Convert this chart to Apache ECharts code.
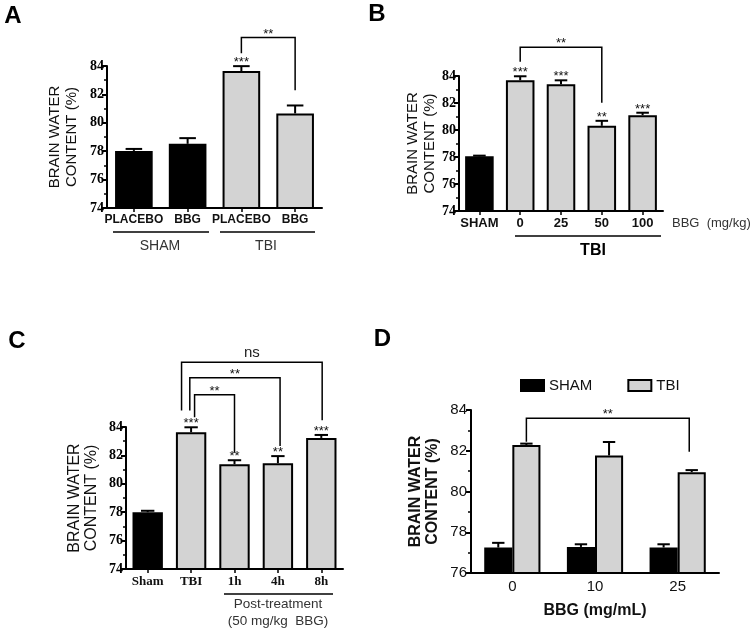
<!DOCTYPE html>
<html><head><meta charset="utf-8">
<script src="https://cdn.jsdelivr.net/npm/echarts@6/dist/echarts.min.js"></script>
<style>html,body{margin:0;padding:0;background:#fff}#c{width:755px;height:633px}</style>
</head><body><div id="c"></div>
<script>
// ---------- Data ----------
// Panel A
const catsA = ['PLACEBO', 'BBG', 'PLACEBO', 'BBG'];
const groupA = ['SHAM', 'SHAM', 'TBI', 'TBI'];
const valsA = [78.02, 78.52, 83.64, 80.66];
const errA = [0.14, 0.4, 0.35, 0.56];
const starsA = ['', '', '***', ''];
const bracketsA = [{ from: 2, fromOff: 0, to: 3, toOff: 0, leg1: 84.9, leg2: 82.3, top: 86.0, label: '**' }];

// Panel B
const catsB = ['SHAM', '0', '25', '50', '100'];
const groupB = ['SHAM', 'TBI', 'TBI', 'TBI', 'TBI'];
const valsB = [78.05, 83.68, 83.38, 80.31, 81.1];
const errB = [0.05, 0.3, 0.3, 0.37, 0.18];
const starsB = ['', '***', '***', '**', '***'];
const bracketsB = [{ from: 1, fromOff: 0, to: 3, toOff: 0, leg1: 85.06, leg2: 82.02, top: 86.13, label: '**' }];

// Panel C
const catsC = ['Sham', 'TBI', '1h', '4h', '8h'];
const groupC = ['SHAM', 'TBI', 'TBI', 'TBI', 'TBI'];
const valsC = [78.0, 83.63, 81.38, 81.45, 83.23];
const errC = [0.1, 0.35, 0.28, 0.5, 0.21];
const starsC = ['', '***', '**', '**', '***'];
const bracketsC = [
  { from: 1, fromOff: -0.22, to: 4, toOff: 0.02, leg1: 85.17, leg2: 84.47, top: 88.56, label: 'ns' },
  { from: 1, fromOff: -0.03, to: 3, toOff: 0.05, leg1: 85.17, leg2: 82.67, top: 87.46, label: '**' },
  { from: 1, fromOff: 0.08, to: 2, toOff: 0, leg1: 84.68, leg2: 82.18, top: 86.27, label: '**' }
];

// Panel D
const catsD = ['0', '10', '25'];
const shamD = [77.25, 77.28, 77.25];
const shamErrD = [0.23, 0.13, 0.16];
const tbiD = [82.28, 81.77, 80.95];
const tbiErrD = [0.07, 0.66, 0.1];
const bracketsD = [{ from: 0, fromOff: 0.17, to: 2, toOff: 0.14, leg1: 82.44, leg2: 81.95, top: 83.59, label: '**' }];

// ---------- Helpers ----------
const BLACK = '#000';
const GREY = '#d3d3d3';
const colorOf = g => (g === 'SHAM' ? BLACK : GREY);
const SANS = '"Liberation Sans", Arial, sans-serif';
const SERIF = '"Liberation Serif", "Times New Roman", serif';
function ts(size, weight, family, color) {
  return { fontSize: size, fontWeight: weight, fontFamily: family, color: color || '#000' };
}

function txt(text, x, y, font, align, vAlign, fill) {
  return {
    type: 'text', x: x, y: y, silent: true,
    style: { text: text, font: font, fill: fill || '#111',
      align: align || 'center', textAlign: align || 'center',
      verticalAlign: vAlign || 'middle', textVerticalAlign: vAlign || 'middle' }
  };
}
function hline(x1, x2, y) {
  return { type: 'line', silent: true, shape: { x1: x1, y1: y, x2: x2, y2: y }, style: { stroke: '#000', lineWidth: 1.5 } };
}

function errSeries(gi, vals, errs, stars, offFrac, barFrac) {
  return {
    type: 'custom', xAxisIndex: gi, yAxisIndex: gi, z: 5, silent: true, clip: false,
    data: vals.map((v, i) => [i, v, v + errs[i]]),
    renderItem: function (params, api) {
      const band = api.size([1, 0])[0];
      const p0 = api.coord([api.value(0), api.value(1)]);
      const p1 = api.coord([api.value(0), api.value(2)]);
      const x = p0[0] + offFrac * band;
      const cap = band * barFrac * 0.22;
      const children = [
        { type: 'line', shape: { x1: x, y1: p0[1], x2: x, y2: p1[1] }, style: { stroke: '#000', lineWidth: 2 } },
        { type: 'line', shape: { x1: x - cap, y1: p1[1], x2: x + cap, y2: p1[1] }, style: { stroke: '#000', lineWidth: 2 } }
      ];
      const s = stars ? stars[params.dataIndex] : '';
      if (s) children.push(txt(s, x, p1[1] - 10, '13px ' + SANS, 'center', 'top', '#111'));
      return { type: 'group', children: children };
    }
  };
}

function bracketSeries(gi, brs) {
  return {
    type: 'custom', xAxisIndex: gi, yAxisIndex: gi, z: 6, silent: true, clip: false,
    data: brs.map(b => [b.from, b.top]),
    renderItem: function (params, api) {
      const b = brs[params.dataIndex];
      const band = api.size([1, 0])[0];
      const xa = api.coord([b.from, b.top])[0] + b.fromOff * band;
      const xb = api.coord([b.to, b.top])[0] + b.toOff * band;
      const yt = api.coord([b.from, b.top])[1];
      const y1 = api.coord([b.from, b.leg1])[1];
      const y2 = api.coord([b.to, b.leg2])[1];
      const children = [{
        type: 'polyline',
        shape: { points: [[xa, y1], [xa, yt], [xb, yt], [xb, y2]] },
        style: { stroke: '#000', lineWidth: 1.5, fill: 'none' }
      }];
      const cx = (xa + xb) / 2;
      if (b.label === 'ns') children.push(txt('ns', cx, yt - 2, '15px ' + SANS, 'center', 'bottom', '#222'));
      else children.push(txt(b.label, cx, yt - 10, '13px ' + SANS, 'center', 'top', '#111'));
      return { type: 'group', children: children };
    }
  };
}

function yAxisCfg(gi, min, max, nameGap, nameStyle, labelStyle, labelMargin) {
  return {
    gridIndex: gi, type: 'value', min: min, max: max, interval: 2,
    name: 'BRAIN WATER\nCONTENT (%)', nameLocation: 'middle', nameRotate: 90, nameGap: nameGap,
    nameTextStyle: Object.assign({ lineHeight: 17 }, nameStyle),
    axisLine: { show: true, lineStyle: { color: '#000', width: 2 } },
    axisTick: { show: true, length: 5, lineStyle: { color: '#000', width: 2 } },
    minorTick: { show: true, splitNumber: 2, length: 3, lineStyle: { color: '#000', width: 1.5 } },
    splitLine: { show: false }, minorSplitLine: { show: false },
    axisLabel: Object.assign({ margin: labelMargin }, labelStyle)
  };
}
function xAxisCfg(gi, cats, labelStyle, margin, ticks) {
  return {
    gridIndex: gi, type: 'category', data: cats,
    axisLine: { show: true, lineStyle: { color: '#000', width: 2 } },
    axisTick: { show: ticks, alignWithLabel: true, length: 4, lineStyle: { color: '#000', width: 1.5 } },
    axisLabel: Object.assign({ margin: margin, interval: 0 }, labelStyle)
  };
}
function barSeries(gi, vals, groups) {
  return {
    type: 'bar', xAxisIndex: gi, yAxisIndex: gi, barCategoryGap: '30%', silent: true,
    data: vals.map((v, i) => ({ value: v, itemStyle: { color: colorOf(groups[i]) } })),
    itemStyle: { borderColor: '#000', borderWidth: 2 }
  };
}

// ---------- Chart ----------
const chart = echarts.init(document.getElementById('c'), null, { renderer: 'canvas' });
const option = {
  animation: false,
  backgroundColor: '#fff',
  grid: [
    { left: 107, top: 66, width: 215, height: 142 },
    { left: 459, top: 76, width: 204, height: 135 },
    { left: 126, top: 427, width: 217, height: 142 },
    { left: 471, top: 410, width: 248, height: 163 }
  ],
  xAxis: [
    xAxisCfg(0, catsA, ts(12, 'bold', SANS, '#111'), 6, true),
    xAxisCfg(1, catsB, ts(13, 'bold', SANS, '#111'), 6, true),
    xAxisCfg(2, catsC, ts(13, 'bold', SERIF, '#111'), 6, true),
    Object.assign(xAxisCfg(3, catsD, ts(15, 'normal', SANS, '#111'), 6, false), {
      name: 'BBG (mg/mL)', nameLocation: 'middle', nameGap: 30,
      nameTextStyle: ts(16, 'bold', SANS, '#111')
    })
  ],
  yAxis: [
    yAxisCfg(0, 74, 84, 27, ts(15, 'normal', SANS, '#111'), ts(14, 'bold', SERIF, '#000'), 3),
    yAxisCfg(1, 74, 84, 19, ts(15, 'normal', SANS, '#111'), ts(14, 'bold', SERIF, '#000'), 3),
    yAxisCfg(2, 74, 84, 26, ts(16, 'normal', SANS, '#111'), ts(14, 'bold', SERIF, '#000'), 3),
    yAxisCfg(3, 76, 84, 30, ts(16, 'bold', SANS, '#111'), ts(15, 'normal', SANS, '#111'), 4)
  ],
  legend: {
    left: 515, top: 373, itemWidth: 23, itemHeight: 11, itemGap: 35, icon: 'rect',
    textStyle: ts(15, 'normal', SANS, '#111'),
    data: ['SHAM', 'TBI'], selectedMode: false
  },
  series: [
    barSeries(0, valsA, groupA), errSeries(0, valsA, errA, starsA, 0, 0.7), bracketSeries(0, bracketsA),
    barSeries(1, valsB, groupB), errSeries(1, valsB, errB, starsB, 0, 0.7), bracketSeries(1, bracketsB),
    barSeries(2, valsC, groupC), errSeries(2, valsC, errC, starsC, 0, 0.7), bracketSeries(2, bracketsC),
    { name: 'SHAM', type: 'bar', xAxisIndex: 3, yAxisIndex: 3, barGap: '0%', barCategoryGap: '32%', silent: true,
      data: shamD, itemStyle: { color: BLACK, borderColor: '#000', borderWidth: 2 } },
    { name: 'TBI', type: 'bar', xAxisIndex: 3, yAxisIndex: 3, barGap: '0%', barCategoryGap: '32%', silent: true,
      data: tbiD, itemStyle: { color: GREY, borderColor: '#000', borderWidth: 2 } },
    errSeries(3, shamD, shamErrD, null, -0.17, 0.34),
    errSeries(3, tbiD, tbiErrD, null, 0.17, 0.34),
    bracketSeries(3, bracketsD)
  ],
  graphic: [
    txt('A', 13, 16, 'bold 24px ' + SANS, 'center', 'middle', '#000'),
    txt('B', 377, 14, 'bold 24px ' + SANS, 'center', 'middle', '#000'),
    txt('C', 17, 341, 'bold 24px ' + SANS, 'center', 'middle', '#000'),
    txt('D', 382.5, 339, 'bold 24px ' + SANS, 'center', 'middle', '#000'),
    // Panel A group labels
    hline(113, 209, 232), hline(220, 315, 232),
    txt('SHAM', 160, 246, '14px ' + SANS, 'center', 'middle', '#333'),
    txt('TBI', 266, 246, '14px ' + SANS, 'center', 'middle', '#333'),
    // Panel B
    txt('BBG  (mg/kg)', 672, 223, '13px ' + SANS, 'left', 'middle', '#333'),
    hline(515, 661, 236),
    txt('TBI', 593, 251, 'bold 16px ' + SANS, 'center', 'middle', '#000'),
    // Panel C
    hline(224, 333, 594),
    txt('Post-treatment', 278, 604, '13.5px ' + SANS, 'center', 'middle', '#333'),
    txt('(50 mg/kg  BBG)', 278, 621, '13.5px ' + SANS, 'center', 'middle', '#333')
  ]
};
chart.setOption(option);
</script>
</body></html>
